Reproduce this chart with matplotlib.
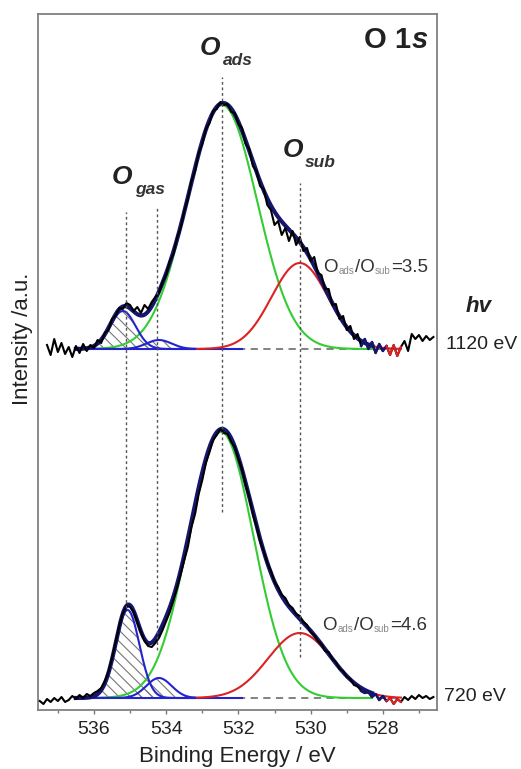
import numpy as np
import matplotlib.pyplot as plt

plt.rcParams['font.family'] = ['Liberation Sans', 'DejaVu Sans']
plt.rcParams['hatch.linewidth'] = 0.8

# measured O 1s spectra, intensity in a.u. (baseline = 0 for each spectrum)
be_720 = np.linspace(537.5, 526.6, 110)
counts_720 = [
    -3, -6, -1, -4, 0, -3, 1, -4, -2, 2,
    -1, 3, 0, 4, 2, 5, 7, 10, 17, 26,
    40, 56, 72, 85, 92, 91, 86, 76, 66, 57,
    52, 51, 55, 60, 68, 77, 86, 98, 110, 124,
    138, 151, 171, 184, 204, 218, 235, 246, 258, 263,
    269, 265, 264, 256, 251, 239, 229, 213, 201, 184,
    172, 157, 147, 135, 127, 116, 111, 103, 100, 93,
    90, 84, 82, 76, 73, 66, 63, 57, 54, 47,
    46, 39, 36, 29, 27, 21, 19, 13, 12, 7,
    5, 6, 1, 4, -2, 2, -3, 0, -6, -1,
    -4, 1, -2, 2, -1, 3, 0, 2, -1, 1,
]

be_1120 = np.linspace(537.3, 526.6, 108)
counts_1120 = [
    4, -6, 10, -3, 6, -5, 2, -8, 3, -4,
    5, -2, 4, 1, 9, 6, 16, 19, 30, 33,
    41, 40, 46, 44, 38, 42, 36, 44, 40, 47,
    52, 56, 67, 74, 88, 95, 111, 121, 138, 150,
    168, 178, 196, 205, 220, 226, 238, 240, 247, 244,
    245, 237, 236, 225, 221, 205, 200, 183, 178, 163,
    160, 144, 139, 124, 128, 114, 121, 108, 118, 104,
    112, 98, 101, 88, 92, 76, 74, 60, 60, 44,
    45, 30, 33, 19, 23, 10, 15, 3, 10, 0,
    7, -4, 5, -2, 3, -6, 4, -7, 2, 8,
    -2, 15, 10, 14, 8, 13, 9, 12,
]

# fitted gaussian components: gas (2), ads, sub
centers_720 = [535.07, 534.2, 532.48, 530.3]
heights_720 = [88, 20, 266, 65]
sigmas_720 = [0.33, 0.35, 0.90, 0.88]

centers_1120 = [535.2, 534.2, 532.45, 530.3]
heights_1120 = [38, 9, 244, 86]
sigmas_1120 = [0.35, 0.35, 0.97, 0.78]

offset_1120 = 349
ratio_720 = "=4.6"
ratio_1120 = "=3.5"

# peak position markers (eV) and their vertical extent
marker_be = [535.12, 534.25, 532.45, 530.3]
marker_top = [486, 490, 621, 515]
marker_bottom = [90, 48, 186, 41]

NAVY = '#161670'
BLUE = '#2424cc'
GREEN = '#33cc33'
RED = '#dd2222'
TXT = '#222222'


def gauss(x, c, h, s):
    return h * np.exp(-(x - c) ** 2 / (2 * s ** 2))


def draw_spectrum(ax, be, counts, centers, heights, sigmas, base):
    be = np.asarray(be)
    y = np.asarray(counts, dtype=float) + base

    # baselines
    ax.plot([532.0, 527.6], [base, base], color='#777777', lw=1.3,
            ls=(0, (4, 3)), zorder=1)

    xg = np.linspace(536.5, 533.2, 200)
    for c, h, s in zip(centers[:2], heights[:2], sigmas[:2]):
        g = gauss(xg, c, h, s)
        ax.fill_between(xg, base, base + g, facecolor='none', edgecolor='#777777',
                        hatch='\\\\\\', linewidth=0, zorder=2)
    ax.plot([536.4, 531.9], [base, base], color=BLUE, lw=1.5, zorder=3)

    xa = np.linspace(536.2, 528.3, 300)
    ax.plot(xa, base + gauss(xa, centers[2], heights[2], sigmas[2]),
            color=GREEN, lw=1.5, zorder=3)
    xs = np.linspace(533.3, 527.5, 300)
    ax.plot(xs, base + gauss(xs, centers[3], heights[3], sigmas[3]),
            color=RED, lw=1.5, zorder=3)
    for c, h, s in zip(centers[:2], heights[:2], sigmas[:2]):
        ax.plot(xg, base + gauss(xg, c, h, s), color=BLUE, lw=1.5, zorder=4)

    # envelope of the fit
    xe = np.linspace(536.5, 528.3, 400)
    env = sum(gauss(xe, c, h, s) for c, h, s in zip(centers, heights, sigmas))
    ax.plot(xe, base + env, color=NAVY, lw=3.0, zorder=5)

    # measured data
    ax.plot(be, y, color='black', lw=1.5, zorder=6)
    m = (be <= 528.65) & (be >= 527.85)
    ax.plot(be[m], y[m], color=NAVY, lw=1.8, zorder=7)
    m = (be <= 527.9) & (be >= 527.45)
    ax.plot(be[m], y[m], color=RED, lw=1.5, zorder=7)


def peak_label(ax, x, y, sub):
    t = ax.text(x, y, 'O', fontsize=19, fontweight='bold', fontstyle='italic',
                va='baseline', color=TXT)
    ax.annotate(sub, xy=(1, y), xycoords=(t, 'data'), xytext=(1.5, -7.5),
                textcoords='offset points', fontsize=12.5, fontweight='bold',
                fontstyle='italic', va='baseline', color='#333333')


def ratio_label(ax, x, y, value):
    pieces = [('O', False), ('ads', True), ('/O', False), ('sub', True), (value, False)]
    prev = None
    for text, is_sub in pieces:
        size = 7 if is_sub else 13.5
        color = '#888888' if is_sub else '#333333'
        dy = -1.5 if is_sub else 0
        if prev is None:
            prev = ax.text(x, y, text, fontsize=size, color=color, va='baseline')
        else:
            prev = ax.annotate(text, xy=(1, y), xycoords=(prev, 'data'),
                               xytext=(0.3, dy), textcoords='offset points',
                               fontsize=size, color=color, va='baseline')


def main():
    fig = plt.figure(figsize=(5.21, 7.69), dpi=100)
    ax = fig.add_axes([38 / 521, 59 / 769, 399 / 521, 696 / 769])

    draw_spectrum(ax, be_720, counts_720, centers_720, heights_720, sigmas_720, 0)
    draw_spectrum(ax, be_1120, counts_1120, centers_1120, heights_1120,
                  sigmas_1120, offset_1120)

    ax.vlines(marker_be, marker_bottom, marker_top, color='#555555', lw=1.0,
              ls=(0, (2, 2)), zorder=8)

    ax.set_xlim(537.55, 526.5)
    ax.set_ylim(-12, 684)
    ax.set_xticks([536, 534, 532, 530, 528])
    ax.set_xticks([537, 535, 533, 531, 529, 527], minor=True)
    ax.set_yticks([])
    ax.tick_params(axis='x', which='both', direction='out', color='#777777',
                   width=1, labelsize=14, labelcolor=TXT, pad=5)
    ax.tick_params(axis='x', which='major', length=3)
    ax.tick_params(axis='x', which='minor', length=2.5)
    for sp in ax.spines.values():
        sp.set_color('#808080')
        sp.set_linewidth(1.3)

    ax.set_xlabel('Binding Energy / eV', fontsize=16, color=TXT, labelpad=6)
    ax.set_ylabel('Intensity /a.u.', fontsize=16, color=TXT)
    ax.yaxis.set_label_coords(-0.013, 0.534)

    # labels
    t = ax.text(528.53, 650, 'O 1', fontsize=21, fontweight='bold',
                va='baseline', color=TXT)
    ax.annotate('s', xy=(1, 650), xycoords=(t, 'data'), xytext=(0.5, 0),
                textcoords='offset points', fontsize=21, fontweight='bold',
                fontstyle='italic', va='baseline', color=TXT)

    peak_label(ax, 533.06, 643, 'ads')
    peak_label(ax, 530.78, 541, 'sub')
    peak_label(ax, 535.5, 514, 'gas')

    ratio_label(ax, 529.64, 426, ratio_1120)
    ratio_label(ax, 529.67, 68, ratio_720)

    ax.text(525.72, 386, 'hv', fontsize=16, fontweight='bold', fontstyle='italic',
            va='baseline', color=TXT, clip_on=False)
    ax.text(526.25, offset_1120, '1120 eV', fontsize=14, va='baseline',
            color=TXT, clip_on=False)
    ax.text(526.31, -3, '720 eV', fontsize=14, va='baseline', color=TXT,
            clip_on=False)

    fig.savefig('out.png', dpi=100)
    plt.close(fig)


if __name__ == '__main__':
    main()
